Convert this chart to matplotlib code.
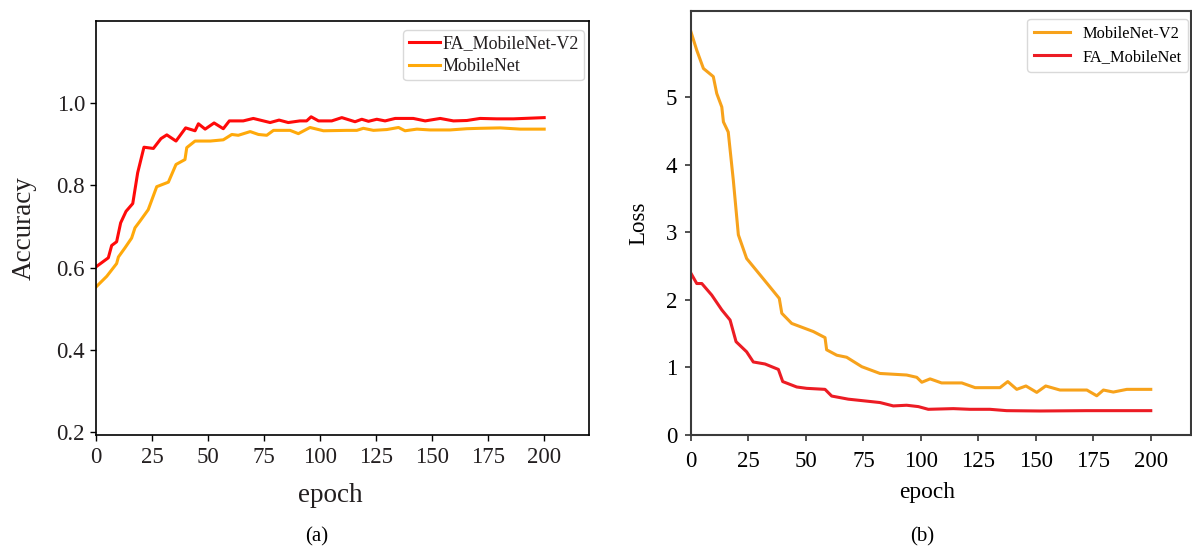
import matplotlib
matplotlib.use("Agg")
import matplotlib.pyplot as plt

plt.rcParams['font.family'] = ['Liberation Serif', 'DejaVu Serif']
plt.rcParams['mathtext.fontset'] = 'stix'

# ---- panel (a): accuracy ----
acc_fa_epoch = [0, 5.5, 7, 9.2, 11, 13.4, 16.4, 18.6, 21.4, 25.6, 29, 31.6, 35.7, 40, 44.2, 45.7,
                48.7, 52.7, 56.8, 59.5, 65.7, 70.2, 77.7, 81.7, 85.8, 91, 94, 96, 99.3, 105.2,
                109.7, 115.6, 118.6, 121.6, 125.3, 129, 133.5, 141.6, 146.9, 153.6, 159.5,
                165.5, 171.4, 178.8, 186.3, 200]
acc_fa = [0.602, 0.624, 0.654, 0.663, 0.709, 0.737, 0.756, 0.831, 0.893, 0.890, 0.914, 0.923,
          0.908, 0.940, 0.933, 0.950, 0.937, 0.952, 0.938, 0.957, 0.957, 0.963, 0.953, 0.959,
          0.953, 0.957, 0.957, 0.967, 0.957, 0.957, 0.965, 0.955, 0.961, 0.956, 0.961, 0.957,
          0.963, 0.963, 0.957, 0.963, 0.957, 0.958, 0.963, 0.962, 0.962, 0.965]

acc_mb_epoch = [0, 4.8, 9.2, 10, 12.9, 15.9, 17.4, 19.6, 23.3, 27.1, 32.3, 35.7, 39.7, 40.5, 44.2,
                51, 56.8, 60.6, 63.5, 68.8, 72.5, 76.2, 79.2, 86.6, 90.3, 95.5, 101.5, 111.9,
                116.4, 119.3, 123.8, 129.8, 135, 137.9, 143.2, 149.1, 158, 165.5, 171.4, 180.4,
                189.3, 200]
acc_mb = [0.553, 0.579, 0.610, 0.626, 0.648, 0.672, 0.697, 0.713, 0.741, 0.797, 0.808, 0.851,
          0.863, 0.892, 0.908, 0.908, 0.911, 0.924, 0.922, 0.931, 0.924, 0.922, 0.934, 0.934,
          0.926, 0.941, 0.933, 0.934, 0.934, 0.939, 0.934, 0.936, 0.941, 0.933, 0.937, 0.935,
          0.935, 0.938, 0.939, 0.940, 0.937, 0.937]

# ---- panel (b): loss ----
loss_mb_epoch = [0, 2.5, 5.4, 9.7, 11.2, 13.4, 14.1, 16.2, 18.4, 20.6, 24.2, 33.6, 38.4, 39.5,
                 43.8, 53.2, 58.3, 59, 63.4, 67.7, 74.3, 82.2, 93.8, 98.2, 100.4, 104, 109,
                 117.8, 123.6, 134.4, 137.8, 141.7, 145.7, 150.4, 154.3, 160.5, 172.2, 176.5,
                 179.4, 183.7, 189.6, 200]
loss_mb = [5.96, 5.69, 5.42, 5.30, 5.05, 4.85, 4.63, 4.48, 3.77, 2.96, 2.61, 2.22, 2.02, 1.80,
           1.65, 1.53, 1.44, 1.26, 1.18, 1.15, 1.01, 0.91, 0.887, 0.853, 0.78, 0.83, 0.77,
           0.77, 0.70, 0.70, 0.79, 0.675, 0.725, 0.63, 0.725, 0.665, 0.665, 0.58, 0.665,
           0.635, 0.675, 0.675]

loss_fa_epoch = [0, 2.5, 4.7, 9, 13.4, 17, 19.6, 24.2, 27.1, 32.2, 38, 39.9, 46, 50.3, 58.3,
                 61.2, 68.4, 82.2, 88, 93.8, 98.9, 103.2, 114.1, 121.3, 130, 137.3, 151.8,
                 172, 183.7, 200]
loss_fa = [2.39, 2.24, 2.24, 2.07, 1.85, 1.70, 1.38, 1.23, 1.08, 1.05, 0.97, 0.79, 0.71, 0.69,
           0.675, 0.576, 0.53, 0.48, 0.43, 0.44, 0.42, 0.38, 0.39, 0.38, 0.38, 0.36, 0.355,
           0.36, 0.36, 0.36]

x_ticks = [0, 25, 50, 75, 100, 125, 150, 175, 200]
acc_ticks = [0.2, 0.4, 0.6, 0.8, 1.0]
loss_ticks = [0, 1, 2, 3, 4, 5]

W, H = 1192, 546
fig = plt.figure(figsize=(W / 100, H / 100), dpi=100)

def ax_px(l, r, t, b):
    return fig.add_axes([l / W, 1 - b / H, (r - l) / W, (b - t) / H])

txt = '#231f20'

# panel (a)
ax1 = ax_px(96, 589, 21, 435)
ax1.plot(acc_fa_epoch, acc_fa, color='#ff0a0a', lw=2.2, label='FA_MobileNet-V2')
ax1.plot(acc_mb_epoch, acc_mb, color='#ffa90a', lw=2.2, label='MobileNet')
ax1.set_xlim(0, 220)
ax1.set_ylim(0.193, 1.2)
ax1.set_xticks(x_ticks)
ax1.set_yticks(acc_ticks)
ax1.set_yticklabels(['0.2', '0.4', '0.6', '0.8', '1.0'])
ax1.tick_params(axis='both', labelsize=16.5, colors='black', labelcolor=txt, length=4.3, width=1)
ax1.tick_params(axis='x', pad=4.5)
ax1.tick_params(axis='y', pad=3.6)
for s in ax1.spines.values():
    s.set_linewidth(1.2)
    s.set_color('black')
ax1.set_xlabel('epoch', fontsize=19.5, color=txt, labelpad=11)
ax1.xaxis.label.set_x(0.475)
ax1.set_ylabel('Accuracy', fontsize=19.5, color=txt, labelpad=14)
leg1 = ax1.legend(loc='upper right', bbox_to_anchor=(0.99, 0.978), borderaxespad=0,
                  fontsize=13, handlelength=1.7, handletextpad=0.15,
                  borderpad=0.3, labelspacing=0.3, framealpha=1, edgecolor='#d9d9d9')
for t in leg1.get_texts():
    t.set_color(txt)

# panel (b)
ax2 = ax_px(691, 1191, 11, 435)
ax2.plot(loss_mb_epoch, loss_mb, color='#f7a21b', lw=2.2, label='MobileNet-V2')
ax2.plot(loss_fa_epoch, loss_fa, color='#ec1c24', lw=2.2, label='FA_MobileNet')
ax2.set_xlim(0, 217.5)
ax2.set_ylim(0, 6.27)
ax2.set_xticks(x_ticks)
ax2.set_yticks(loss_ticks)
ax2.tick_params(axis='both', labelsize=16.5, colors='#333333', labelcolor='black', length=4.3, width=1.2)
ax2.tick_params(axis='x', pad=7.5)
ax2.tick_params(axis='y', pad=5.5)
for s in ax2.spines.values():
    s.set_linewidth(1.5)
    s.set_color('#3a3a3a')
ax2.set_xlabel('epoch', fontsize=16.8, color='black', labelpad=7)
ax2.xaxis.label.set_x(0.472)
ax2.set_ylabel('Loss', fontsize=16.5, color='black', labelpad=12)
leg2 = ax2.legend(loc='upper right', bbox_to_anchor=(0.994, 0.981), borderaxespad=0,
                  fontsize=11.8, handlelength=2.2, handletextpad=0.75,
                  borderpad=0.4, labelspacing=0.45, framealpha=1, edgecolor='#d9d9d9')

fig.text(317 / W, 1 - 537 / H, '(a)', fontsize=15, ha='center', va='center', color='black')
fig.text(922 / W, 1 - 537 / H, '(b)', fontsize=15, ha='center', va='center', color='black')

fig.savefig('out.png', dpi=100)
